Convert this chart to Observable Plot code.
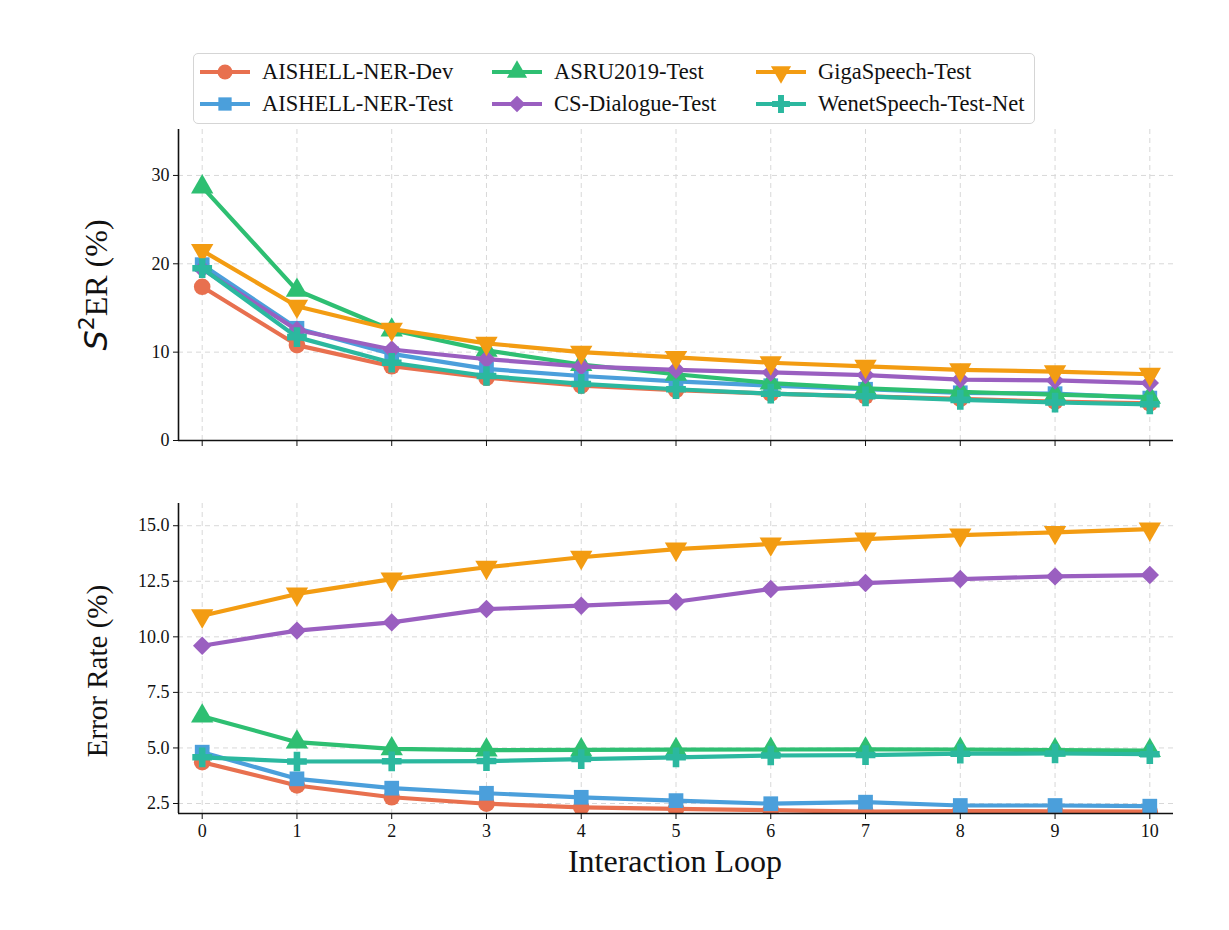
<!DOCTYPE html>
<html>
<head>
<meta charset="utf-8">
<script src="https://cdn.jsdelivr.net/npm/d3@7"></script>
<script src="https://cdn.jsdelivr.net/npm/@observablehq/plot@0.6"></script>
<style>
  html, body { margin: 0; padding: 0; background: #fff; }
  #wrap { position: relative; width: 1229px; height: 930px; font-family: "Liberation Serif", "DejaVu Serif", serif; }
  #wrap svg { display: block; }
  .abs { position: absolute; }
  #legend { position: absolute; left: 193px; top: 53px; width: 842px; height: 71px; border: 1.5px solid #d5d5d5; border-radius: 5px; box-sizing: border-box; }
  .item { position: absolute; display: flex; align-items: center; font-size: 22.5px; color: #111; white-space: nowrap; }
  .ylab { position: absolute; transform: translate(-50%, -50%) rotate(-90deg); white-space: nowrap; color: #111; }
</style>
</head>
<body>
<div id="wrap"></div>
<script>
// ---------------- data ----------------
const loops = [0, 1, 2, 3, 4, 5, 6, 7, 8, 9, 10];
const seriesNames = ["AISHELL-NER-Dev", "AISHELL-NER-Test", "ASRU2019-Test", "CS-Dialogue-Test", "GigaSpeech-Test", "WenetSpeech-Test-Net"];
const seriesColors = ["#e8704f", "#4b9fdb", "#2ebf72", "#9a5fc0", "#f39c12", "#2bb89f"];
const seriesSymbols = ["circle", "square", "triangle", "diamond2", "triangle", "cross"];
const seriesRotate = [0, 0, 0, 0, 180, 0];

// S²ER (%) – top panel
const s2erDev   = [17.4, 10.8, 8.4, 7.1, 6.2, 5.7, 5.3, 5.0, 4.7, 4.4, 4.2];
const s2erTest  = [19.9, 12.7, 9.8, 8.1, 7.3, 6.7, 6.2, 5.8, 5.4, 5.3, 4.8];
const s2erAsru  = [28.7, 17.0, 12.5, 10.2, 8.6, 7.5, 6.5, 5.9, 5.5, 5.2, 4.9];
const s2erCs    = [19.4, 12.5, 10.3, 9.2, 8.4, 8.0, 7.7, 7.4, 6.9, 6.8, 6.5];
const s2erGiga  = [21.5, 15.2, 12.6, 11.0, 10.0, 9.4, 8.8, 8.4, 8.0, 7.8, 7.5];
const s2erWenet = [19.5, 11.7, 8.8, 7.3, 6.4, 5.8, 5.3, 5.0, 4.6, 4.3, 4.1];

// Error Rate (%) – bottom panel
const errDev   = [4.36, 3.31, 2.78, 2.49, 2.33, 2.26, 2.20, 2.13, 2.16, 2.15, 2.13];
const errTest  = [4.81, 3.61, 3.19, 2.96, 2.78, 2.63, 2.49, 2.56, 2.41, 2.41, 2.38];
const errAsru  = [6.43, 5.26, 4.96, 4.90, 4.91, 4.92, 4.93, 4.94, 4.93, 4.90, 4.88];
const errCs    = [9.60, 10.28, 10.65, 11.25, 11.40, 11.58, 12.15, 12.42, 12.60, 12.72, 12.78];
const errGiga  = [10.95, 11.93, 12.60, 13.13, 13.58, 13.95, 14.18, 14.40, 14.58, 14.70, 14.85];
const errWenet = [4.58, 4.39, 4.40, 4.41, 4.50, 4.58, 4.66, 4.68, 4.74, 4.75, 4.72];

const topTicks = [0, 10, 20, 30];
const bottomTicks = [2.5, 5.0, 7.5, 10.0, 12.5, 15.0];
const legendOrder = ["AISHELL-NER-Dev", "ASRU2019-Test", "GigaSpeech-Test", "AISHELL-NER-Test", "CS-Dialogue-Test", "WenetSpeech-Test-Net"];

// ---------------- build tables ----------------
function tidy(arrays) {
  const rows = [];
  seriesNames.forEach((s, i) => loops.forEach((l, j) => rows.push({series: s, loop: l, value: arrays[i][j], rot: seriesRotate[i]})));
  return rows;
}
const topData = tidy([s2erDev, s2erTest, s2erAsru, s2erCs, s2erGiga, s2erWenet]);
const botData = tidy([errDev, errTest, errAsru, errCs, errGiga, errWenet]);

const FONT = "Liberation Serif, DejaVu Serif, serif";
const xDomain = [-0.25, 10.25];
const LW = 4.2, R = 8.3;

function seriesMarks(data) {
  const marks = [];
  seriesNames.forEach((s, i) => {
    const d = data.filter(r => r.series === s);
    marks.push(Plot.line(d, {x: "loop", y: "value", stroke: seriesColors[i], strokeWidth: LW, clip: "frame"}));
    marks.push(Plot.dot(d, {x: "loop", y: "value", symbol: () => seriesSymbols[i], fill: seriesColors[i], stroke: "none", r: R, rotate: "rot", clip: "frame"}));
  });
  return marks;
}

function panel({data, height, marginTop, marginBottom, yDomain, yTicks, yFormat, xLabels}) {
  return Plot.plot({
    width: 1229, height, marginLeft: 178, marginRight: 56, marginTop, marginBottom,
    style: {fontFamily: FONT, fontSize: "18px", background: "transparent", color: "#111"},
    x: {domain: xDomain},
    y: {domain: yDomain},
    marks: [
      Plot.gridX(loops, {stroke: "#d8d8d8", strokeOpacity: 1, strokeDasharray: "5,4", strokeWidth: 1}),
      Plot.gridY(yTicks, {stroke: "#d8d8d8", strokeOpacity: 1, strokeDasharray: "5,4", strokeWidth: 1}),
      ...seriesMarks(data),
      Plot.ruleX([xDomain[0]], {stroke: "#111", strokeWidth: 1.6}),
      Plot.ruleY([yDomain[0]], {stroke: "#111", strokeWidth: 1.6}),
      Plot.axisY(yTicks, {tickSize: 5, tickPadding: 4, tickFormat: yFormat, label: null, fontSize: 18, stroke: "#111"}),
      Plot.axisX(loops, {tickSize: 6, tickPadding: 5, tickFormat: xLabels ? d => String(d) : () => "", label: null, fontSize: 18, stroke: "#111"})
    ]
  });
}

const wrap = document.getElementById("wrap");

const topPanel = panel({data: topData, height: 470, marginTop: 129, marginBottom: 30, yDomain: [0, 35.2], yTicks: topTicks, yFormat: d => String(d), xLabels: false});
topPanel.classList.add("abs"); topPanel.style.left = "0px"; topPanel.style.top = "0px";
wrap.appendChild(topPanel);

const botPanel = panel({data: botData, height: 460, marginTop: 33, marginBottom: 117, yDomain: [2.05, 16.0], yTicks: bottomTicks, yFormat: d3.format(".1f"), xLabels: true});
botPanel.classList.add("abs"); botPanel.style.left = "0px"; botPanel.style.top = "470px";
wrap.appendChild(botPanel);

// ---------------- axis titles ----------------
const y1 = document.createElement("div");
y1.className = "ylab";
y1.style.left = "94px"; y1.style.top = "285px"; y1.style.fontSize = "32px";
y1.innerHTML = '<span style="font-family:\'DejaVu Sans\';font-style:italic">S</span><sup style="font-family:\'DejaVu Sans\';font-size:22px;vertical-align:13px">2</sup>ER (%)';
wrap.appendChild(y1);

const y2 = document.createElement("div");
y2.className = "ylab";
y2.style.left = "97px"; y2.style.top = "671px"; y2.style.fontSize = "29px";
y2.textContent = "Error Rate (%)";
wrap.appendChild(y2);

const xl = document.createElement("div");
xl.className = "abs";
xl.style.left = "675px"; xl.style.top = "861px"; xl.style.transform = "translate(-50%, -50%)";
xl.style.fontSize = "32px"; xl.style.lineHeight = "32px"; xl.style.color = "#111"; xl.style.whiteSpace = "nowrap";
xl.textContent = "Interaction Loop";
wrap.appendChild(xl);

// ---------------- legend ----------------
const legend = document.createElement("div");
legend.id = "legend";
wrap.appendChild(legend);
const colX = [6, 298, 562];
const rowY = [18, 50];
legendOrder.forEach((name, k) => {
  const i = seriesNames.indexOf(name);
  const col = k % 3, row = Math.floor(k / 3);
  const item = document.createElement("div");
  item.className = "item";
  item.style.left = colX[col] + "px";
  item.style.top = (rowY[row] - 14) + "px";
  item.style.height = "28px";
  const symMap = {circle: d3.symbolCircle, square: d3.symbolSquare, triangle: d3.symbolTriangle, diamond2: d3.symbolDiamond2, cross: d3.symbolCross};
  const path = d3.symbol(symMap[seriesSymbols[i]], Math.PI * 7.5 * 7.5)();
  item.innerHTML =
    `<svg width="50" height="28" style="margin-right:12px"><line x1="0" x2="50" y1="14" y2="14" stroke="${seriesColors[i]}" stroke-width="${LW}"/>` +
    `<path d="${path}" transform="translate(25,14) rotate(${seriesRotate[i]})" fill="${seriesColors[i]}"/></svg>` +
    `<span>${name}</span>`;
  legend.appendChild(item);
});
</script>
</body>
</html>
